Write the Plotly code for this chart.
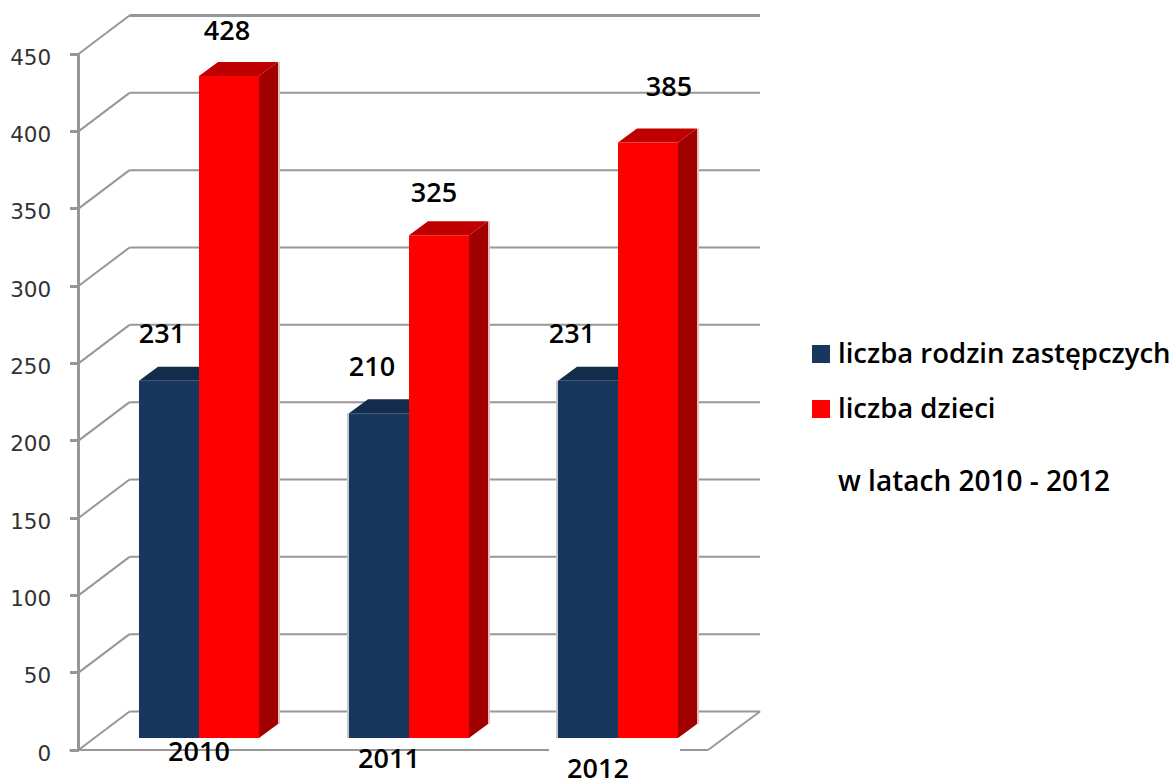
import plotly.graph_objects as go

years = ["2010", "2011", "2012"]
rodziny = [231, 210, 231]
dzieci = [428, 325, 385]
ticks = [0, 50, 100, 150, 200, 250, 300, 350, 400, 450]
names = ["liczba rodzin zastępczych", "liczba dzieci"]
note = "w latach 2010 - 2012"

W, H = 1172, 780
Y0 = 750.0
K = 696 / 450


def up(p):
    return p / K


GRID = "#979797"
NAVY, NAVY_TOP = "#17375E", "#142C4B"
RED, RED_TOP, RED_SIDE = "#FF0000", "#C00000", "#A00000"
F_NUM = dict(family="DejaVu Sans", size=21.5, color="#333333")
F_TXT = dict(family="Open Sans", size=27.5, color="black", weight=600)
F_NOTE = dict(family="Open Sans", size=28, color="black", weight=600)

fig = go.Figure()


def poly(xs, ys, color):
    fig.add_trace(go.Scatter(x=xs, y=ys, mode="lines", fill="toself", fillcolor=color,
                             line=dict(width=0, color=color), hoverinfo="skip", showlegend=False))


def line(xs, ys, width=2, color=GRID):
    fig.add_trace(go.Scatter(x=xs, y=ys, mode="lines", line=dict(color=color, width=width),
                             hoverinfo="skip", showlegend=False))


def text(x, y, s, font, pos="middle center"):
    fig.add_trace(go.Scatter(x=[x], y=[y], mode="text", text=[s], textposition=pos, textfont=font,
                             cliponaxis=False, hoverinfo="skip", showlegend=False))


# wall, floor
AX, WX0, WX1 = 78.5, 129.5, 760
WD = up(38.5)
for t in ticks[1:]:
    line([AX, WX0], [t, t + WD], 2)
    line([WX0, WX1], [t + WD, t + WD], 3 if t == ticks[-1] else 2)
line([WX0, WX1, 708], [WD, WD, 0], 2)
line([AX, WX0], [0, WD], 2)
line([AX, AX], [0, ticks[-1]], 3)
line([AX - 9, 549, None, 680, 708], [0, 0, None, 0, 0], 2)


# bars
BASE = up(12)
BAR_W, DX, DY = 60, 19, up(14)
LEFT = [139, 349, 558]


def bar(x, v, front, top, side=None, halo=None):
    y0, y1 = BASE, BASE + v
    if halo and side:
        line([x + BAR_W + DX + 1, x + BAR_W + DX + 1], [y0 + DY, y1 + DY], 2, halo)
    if halo and not side:
        line([x - 1, x - 1], [y0, y1], 2, halo)
    if side:
        poly([x + BAR_W, x + BAR_W + DX, x + BAR_W + DX, x + BAR_W],
             [y0, y0 + DY, y1 + DY, y1], side)
    poly([x, x + DX, x + BAR_W + DX, x + BAR_W], [y1, y1 + DY, y1 + DY, y1], top)
    poly([x, x + BAR_W, x + BAR_W, x], [y0, y0, y1, y1], front)


for i, (left, a, b) in enumerate(zip(LEFT, rodziny, dzieci)):
    bar(left, a, NAVY, NAVY_TOP, None, "#C4C9D0" if i else None)
    bar(left + BAR_W, b, RED, RED_TOP, RED_SIDE, "#E8BDBD")

# value labels (hand-placed in the original)
F_LBL = dict(family="Open Sans", size=27, color="black", weight=600)
for left, a, b, dxa, dya, dxb, dyb in zip(LEFT, rodziny, dzieci,
                                          [-7, -7, -16], [44, 44, 44], [-2, -5, 21], [43, 40, 53]):
    text(left + BAR_W / 2 + dxa, BASE + a + up(dya), str(a), F_LBL)
    text(left + BAR_W * 1.5 + dxb, BASE + b + up(dyb), str(b), F_LBL)

# category labels
for x, py, s in zip([199, 389, 598], [754, 761, 771], years):
    text(x, up(Y0 - py), s, F_LBL)

# legend
for py, c, s in zip([354, 409], [NAVY, RED], names):
    fig.add_trace(go.Scatter(x=[821], y=[up(Y0 - py)], mode="markers",
                             marker=dict(symbol="square", size=18, color=c, line=dict(width=0)),
                             hoverinfo="skip", showlegend=False))
    text(838, up(Y0 - py - 2), s, F_TXT, "middle right")
text(838, up(Y0 - 484), note, F_NOTE, "middle right")

fig.update_layout(
    width=W, height=H, margin=dict(l=0, r=0, t=0, b=0), autosize=False,
    paper_bgcolor="white", plot_bgcolor="white", showlegend=False,
    xaxis=dict(range=[0, W], visible=False, fixedrange=True),
    yaxis=dict(range=[up(Y0 - H), up(Y0)], tickvals=ticks, anchor="free", position=AX / W,
               showgrid=False, zeroline=False, showline=False, ticks="outside", ticklen=9, tickwidth=3,
               tickcolor=GRID, tickfont=F_NUM, ticklabelstandoff=14, ticklabelshift=3, fixedrange=True),
)
fig.write_html("out.html", config=dict(displayModeBar=False),
               post_script="document.body.style.margin='0';document.body.style.overflow='hidden';")
